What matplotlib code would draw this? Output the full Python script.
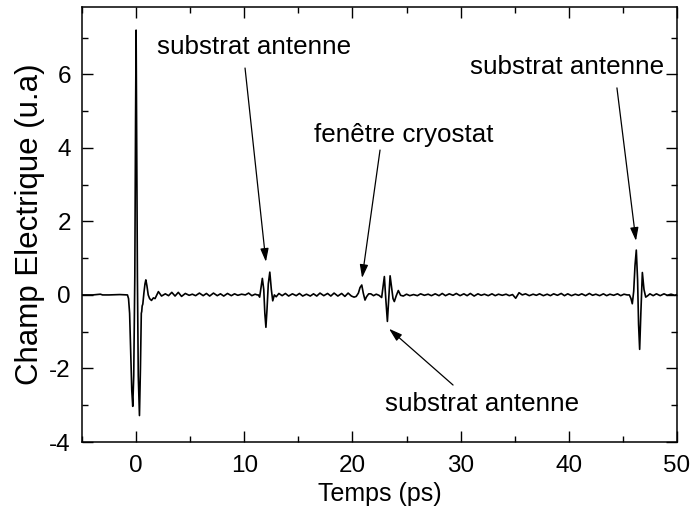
import numpy as np
import matplotlib
matplotlib.use('Agg')
import matplotlib.pyplot as plt
from matplotlib.ticker import MultipleLocator

# Champ électrique (u.a), par morceaux
t_avant = [-5.0, -4.0, -3.3, -3.1, -2.5, -1.5, -0.9]
e_avant = [0.0, 0.0, 0.02, 0.0, 0.0, 0.01, 0.0]

t_pulse = [-0.8, -0.7, -0.6, -0.5, -0.4, -0.31, -0.22, -0.12, -0.05, 0.0,
           0.05, 0.12, 0.2, 0.31, 0.4, 0.48, 0.52, 0.56, 0.62, 0.72,
           0.82, 0.9, 1.0, 1.12, 1.25, 1.42, 1.6, 1.75]
e_pulse = [0.0, -0.1, -0.5, -1.5, -2.6, -3.03, -2.2, 0.5, 4.8, 7.2,
           4.5, 0.5, -2.2, -3.28, -2.0, -0.5, -0.45, -0.3, -0.25, 0.05,
           0.3, 0.41, 0.25, 0.0, -0.1, -0.15, -0.08, -0.1]

t_bruit1 = [2.06, 2.35, 2.7, 3.0, 3.3, 3.6, 3.9, 4.2, 4.55, 4.9,
            5.2, 5.5, 5.85, 6.2, 6.5, 6.8, 7.15, 7.5, 7.8, 8.1,
            8.45, 8.8, 9.1, 9.4, 9.75, 10.1, 10.4, 10.7, 11.0, 11.2]
e_bruit1 = [0.09, -0.03, 0.03, -0.02, 0.07, -0.03, 0.07, -0.04, 0.04, -0.01,
            0.02, -0.02, 0.05, -0.02, 0.04, -0.03, 0.05, -0.02, 0.03, -0.03,
            0.04, -0.02, 0.03, -0.01, 0.02, 0.0, 0.05, -0.02, 0.02, 0.0]

t_echo1 = [11.3, 11.42, 11.55, 11.67, 11.8, 11.9, 12.0, 12.1, 12.22, 12.36,
           12.5, 12.63, 12.78, 12.95]
e_echo1 = [0.0, -0.06, 0.2, 0.45, 0.15, -0.5, -0.88, -0.4, 0.3, 0.62,
           0.15, -0.16, 0.0, -0.05]

t_bruit2 = [13.2, 13.5, 13.8, 14.1, 14.45, 14.8, 15.1, 15.4, 15.75, 16.1,
            16.4, 16.7, 17.0, 17.35, 17.7, 18.0, 18.3, 18.65, 19.0, 19.3,
            19.6, 19.9, 20.15]
e_bruit2 = [0.04, -0.02, 0.04, -0.03, 0.03, -0.02, 0.04, -0.03, 0.02, -0.03,
            0.03, -0.03, 0.05, -0.02, 0.04, -0.03, 0.05, -0.03, 0.04, -0.04,
            0.05, -0.03, -0.06]

t_fenetre = [20.35, 20.55, 20.7, 20.86, 21.0, 21.16, 21.3, 21.5,
             21.7, 21.95, 22.2, 22.45]
e_fenetre = [-0.04, 0.05, 0.2, 0.27, 0.05, -0.14, -0.05, 0.03,
             0.03, -0.02, 0.02, -0.01]

t_echo2 = [22.7, 22.82, 22.95, 23.08, 23.23, 23.36, 23.48, 23.62, 23.75, 23.87,
           24.05, 24.24, 24.45, 24.7]
e_echo2 = [-0.07, 0.2, 0.5, -0.1, -0.72, -0.1, 0.52, 0.2, -0.1, -0.18,
           -0.02, 0.12, -0.01, -0.03]

t_bruit3 = [25.0, 25.3, 25.65, 26.0, 26.3, 26.65, 27.0, 27.3,
            27.65, 28.0, 28.3, 28.6, 28.95, 29.3, 29.6, 29.95,
            30.3, 30.6, 30.9, 31.25, 31.6, 31.9, 32.2, 32.55,
            32.9, 33.2, 33.5, 33.85, 34.2, 34.5, 34.8, 35.09,
            35.4, 35.7, 36.0, 36.35, 36.7, 37.0, 37.3, 37.65,
            38.0, 38.3, 38.6, 38.95, 39.3, 39.6, 39.9, 40.25,
            40.6, 40.9, 41.2, 41.55, 41.9, 42.2, 42.5, 42.85,
            43.2, 43.5, 43.8, 44.15, 44.5, 44.8, 45.1, 45.4]
e_bruit3 = [0.02, -0.02, 0.01, -0.02, 0.03, -0.01, 0.02, -0.02,
            0.03, -0.02, 0.04, -0.02, 0.03, -0.01, 0.04, -0.02,
            0.03, -0.02, 0.04, -0.03, 0.03, -0.01, 0.02, -0.02,
            0.03, -0.02, 0.02, -0.01, 0.02, -0.02, 0.01, -0.09,
            0.06, 0.0, 0.03, -0.02, 0.02, -0.01, 0.03, -0.02,
            0.02, -0.02, 0.03, -0.01, 0.04, -0.02, 0.03, -0.02,
            0.02, -0.01, 0.03, -0.02, 0.04, -0.01, 0.02, -0.02,
            0.03, -0.02, 0.02, -0.01, 0.03, -0.02, 0.02, 0.0]

t_echo3 = [45.6, 45.75, 45.87, 46.0, 46.12, 46.24, 46.36, 46.45, 46.55, 46.66,
           46.8, 46.95, 47.11, 47.3, 47.5]
e_echo3 = [0.0, -0.1, -0.24, 0.1, 0.8, 1.22, 0.4, -0.8, -1.48, -0.5,
           0.61, 0.15, -0.06, -0.02, 0.03]

t_fin = [47.8, 48.1, 48.45, 48.8, 49.1, 49.45, 49.8, 50.0]
e_fin = [-0.02, 0.03, -0.02, 0.03, -0.01, 0.02, -0.01, 0.01]

temps = np.concatenate([t_avant, t_pulse, t_bruit1, t_echo1, t_bruit2,
                        t_fenetre, t_echo2, t_bruit3, t_echo3, t_fin])
champ = np.concatenate([e_avant, e_pulse, e_bruit1, e_echo1, e_bruit2,
                        e_fenetre, e_echo2, e_bruit3, e_echo3, e_fin])

# annotations: texte, position du texte, queue et pointe de la flèche
annot_textes = ['substrat antenne', 'fenêtre cryostat', 'substrat antenne', 'substrat antenne']
annot_pos = [(10.9, 6.74), (24.7, 4.35), (32.0, -2.96), (39.8, 6.2)]
annot_queue = [(10.07, 6.17), (22.55, 3.94), (29.3, -2.45), (44.45, 5.63)]
annot_pointe = [(12.0, 0.9), (20.89, 0.46), (23.38, -0.92), (46.21, 1.47)]

plt.rcParams['font.family'] = ['Liberation Sans', 'DejaVu Sans']
plt.rcParams['axes.unicode_minus'] = False

fig = plt.figure(figsize=(6.91, 5.17), dpi=100)
ax = fig.add_axes([0.1187, 0.145, 0.861, 0.8415])

ax.plot(temps, champ, color='black', lw=1.2)

for txt, pos, q, p in zip(annot_textes, annot_pos, annot_queue, annot_pointe):
    ax.text(pos[0], pos[1], txt, ha='center', va='center', fontsize=18.7)
    ax.annotate('', xy=p, xytext=q,
                arrowprops=dict(arrowstyle='-|>,head_length=0.8,head_width=0.25',
                                color='black', lw=0.9, mutation_scale=10,
                                shrinkA=0, shrinkB=0))

ax.set_xlim(-5, 50)
ax.set_ylim(-4, 7.83)
ax.xaxis.set_major_locator(MultipleLocator(10))
ax.xaxis.set_minor_locator(MultipleLocator(5))
ax.yaxis.set_major_locator(MultipleLocator(2))
ax.yaxis.set_minor_locator(MultipleLocator(1))
ax.tick_params(which='both', direction='in', top=True, right=True, width=1)
ax.tick_params(which='major', length=8, labelsize=17.5)
ax.tick_params(axis='x', which='major', pad=9)
ax.tick_params(axis='y', which='major', pad=8)
ax.tick_params(which='minor', length=4.5)
for s in ax.spines.values():
    s.set_linewidth(1.1)

ax.set_xlabel('Temps (ps)', fontsize=18, labelpad=4)
ax.set_ylabel('Champ Electrique (u.a)', fontsize=22.5, labelpad=3)

fig.savefig('out.png', dpi=100)
